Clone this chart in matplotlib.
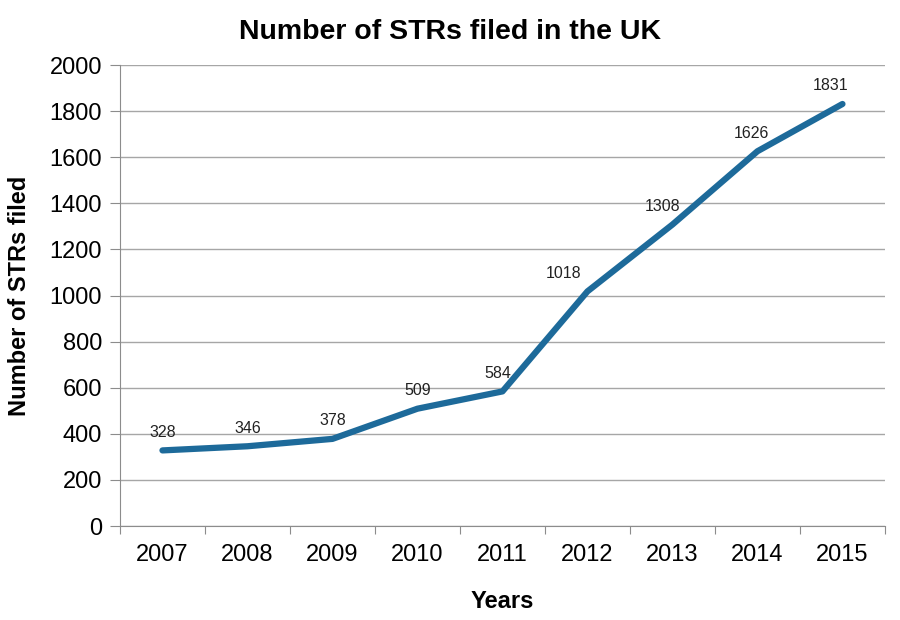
import matplotlib
matplotlib.use("Agg")
import matplotlib.pyplot as plt

years = ["2007", "2008", "2009", "2010", "2011", "2012", "2013", "2014", "2015"]
strs_filed = [328, 346, 378, 509, 584, 1018, 1308, 1626, 1831]

# small horizontal nudges for the data labels (points)
label_dx = [0, 0, 0, 0, -3.5, -17, -7, -4.5, -8.5]

plt.rcParams["font.family"] = ["Liberation Sans", "DejaVu Sans"]

fig = plt.figure(figsize=(9, 6.2), dpi=100)
ax = fig.add_axes([0.1333, 0.1516, 0.850, 0.7435])

x = list(range(len(years)))
ax.plot(x, strs_filed, color="#1D6A9A", linewidth=4.5, solid_capstyle="round",
        solid_joinstyle="round", zorder=3)

for i, v in enumerate(strs_filed):
    ax.annotate(str(v), (x[i], v), xytext=(label_dx[i], 13), textcoords="offset points",
                ha="center", va="center", fontsize=11.5, color="#222222")

ax.set_xlim(-0.5, len(years) - 0.5)
ax.set_ylim(0, 2000)
ax.set_yticks(range(0, 2001, 200))
ax.yaxis.grid(True, color="#A6A6A6", linewidth=1)
ax.set_axisbelow(True)

# category axis: ticks between categories, labels centered
ax.set_xticks([i - 0.5 for i in range(len(years) + 1)])
ax.set_xticklabels([])
ax.set_xticks(x, minor=True)
ax.set_xticklabels(years, minor=True, fontsize=17)
ax.tick_params(axis="x", which="minor", length=0, pad=13)
ax.tick_params(axis="x", which="major", length=6, color="#8C8C8C", direction="out")
ax.tick_params(axis="y", length=7, color="#8C8C8C", labelsize=17, pad=6)

for side in ["top", "right"]:
    ax.spines[side].set_visible(False)
for side in ["left", "bottom"]:
    ax.spines[side].set_color("#8C8C8C")

ax.set_xlabel("Years", fontsize=17, fontweight="bold", labelpad=17)
ax.set_ylabel("Number of STRs filed", fontsize=17, fontweight="bold", labelpad=13)
fig.suptitle("Number of STRs filed in the UK", fontsize=20.5, fontweight="bold", y=0.97)

fig.savefig("out.png", dpi=100, facecolor="white")
